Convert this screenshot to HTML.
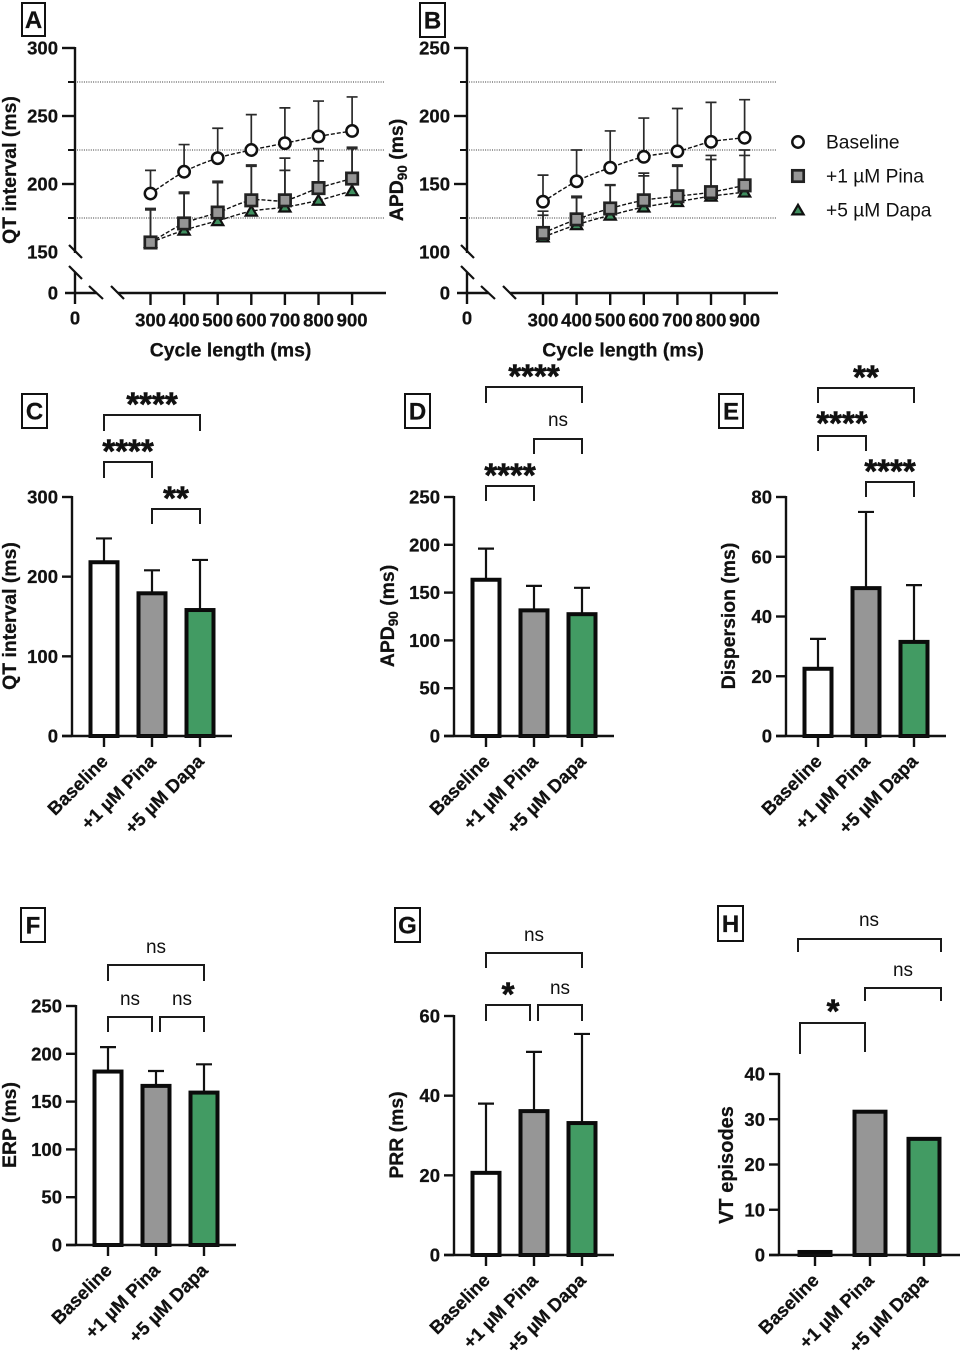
<!DOCTYPE html>
<html lang="en">
<head>
<meta charset="utf-8">
<title>Electrophysiology panels A–H</title>
<style>
html,body{margin:0;padding:0;background:#fff;}
#figure{display:block;width:962px;height:1351px;font-family:"Liberation Sans",sans-serif;filter:blur(0.3px);}
text{font-family:"Liberation Sans",sans-serif;fill:#111;}
text[font-weight="bold"]{stroke:#111;stroke-width:0.25px;}
</style>
</head>
<body>
<svg id="figure" xmlns="http://www.w3.org/2000/svg" width="962" height="1351" viewBox="0 0 962 1351"></svg>
<script>
const groupLabels = ['Baseline', '+1 µM Pina', '+5 µM Dapa'];
const cycleLengths = [300, 400, 500, 600, 700, 800, 900];

const qtLineBaseline = [193, 209, 219, 225, 230, 235, 239];
const qtLineBaselineUpper = [210, 229, 241, 251, 256, 261, 264];
const qtLinePina = [157, 171, 179, 188, 188, 197, 204];
const qtLinePinaUpper = [182, 194, 202, 214, 219, 226, 227];
const qtLineDapa = [157, 166, 173, 180, 183, 188, 195];
const qtLineDapaUpper = [181, 193, 201, 213, 210, 217, 226];
const qtLineTicks = [300, 250, 200, 150];
const qtLineMinorTicks = [275, 225, 175];

const apdLineBaseline = [137, 152, 162, 170, 174, 181, 184];
const apdLineBaselineUpper = [156.5, 175, 189, 198.5, 205.5, 210, 212];
const apdLinePina = [114, 124, 132, 138, 141, 144, 149];
const apdLinePinaUpper = [130, 141, 149.5, 158, 164, 171, 175];
const apdLineDapa = [111, 120, 127, 133, 137, 141, 144];
const apdLineDapaUpper = [127, 140, 149, 156, 163, 168, 171];
const apdLineTicks = [250, 200, 150, 100];
const apdLineMinorTicks = [225, 175, 125];

const qtBarMeans = [220, 181, 160];
const qtBarUpper = [248, 208, 221];
const qtBarTicks = [0, 100, 200, 300];

const apdBarMeans = [165, 133, 129];
const apdBarUpper = [196, 157, 155];
const apdBarTicks = [0, 50, 100, 150, 200, 250];

const dispersionMeans = [23, 50, 32];
const dispersionUpper = [32.5, 75, 50.5];
const dispersionTicks = [0, 20, 40, 60, 80];

const erpMeans = [183, 168, 161];
const erpUpper = [207, 182, 189];
const erpTicks = [0, 50, 100, 150, 200, 250];

const prrMeans = [21, 36.5, 33.5];
const prrUpper = [38, 51, 55.5];
const prrTicks = [0, 20, 40, 60];

const vtEpisodes = [1, 32, 26];
const vtTicks = [0, 10, 20, 30, 40];

const svgRoot = document.getElementById('figure');
const NS = 'http://www.w3.org/2000/svg';
const fills = ['#ffffff', '#969696', '#429b63'];

function make(parent, tag, attrs, text) {
  const node = document.createElementNS(NS, tag);
  for (const k in attrs) node.setAttribute(k, attrs[k]);
  if (text !== undefined) node.textContent = text;
  parent.appendChild(node);
  return node;
}

function panelLetter(parent, letter, x, y, w, h) {
  const box = make(parent, 'rect', {x: x, y: y, width: w, height: h, fill: '#fff', stroke: '#111', 'stroke-width': 2});
  
  
  const t = make(parent, 'text', {x: x + w / 2, y: y + h / 2 + 8.5, 'text-anchor': 'middle', 'font-size': 24, 'font-weight': 'bold'}, letter);
  
  
}

function yTitle(parent, label, sub, rest, x, y, size) {
  const t = make(parent, 'text', {transform: 'translate(' + x + ',' + y + ') rotate(-90)', 'text-anchor': 'middle', 'font-size': size || 19.4, 'font-weight': 'bold'}, label);
  if (sub) {
    make(t, 'tspan', {dy: 4, 'font-size': 13.5}, sub);
    make(t, 'tspan', {dy: -4}, rest);
  }
  
  
}

function axisLine(parent, x1, y1, x2, y2, width, name) {
  const l = make(parent, 'line', {x1: x1, y1: y1, x2: x2, y2: y2, stroke: '#111', 'stroke-width': width});
  
  
  return l;
}

function tickLabel(parent, x, y, anchor, value, name) {
  const t = make(parent, 'text', {x: x, y: y + 6.5, 'text-anchor': anchor, 'font-size': 18.5, 'font-weight': 'bold'}, value);
  
  
}

function bracket(parent, x1, x2, y, dropL, dropR, label, lx, ly) {
  const p = make(parent, 'path', {d: 'M' + x1 + ' ' + (y + dropL) + 'V' + y + 'H' + x2 + 'V' + (y + dropR), fill: 'none', stroke: '#1a1a1a', 'stroke-width': 2});
  
  
  const isStars = label.charAt(0) === '*';
  const t = make(parent, 'text', isStars
    ? {x: lx, y: ly + 15.5, 'text-anchor': 'middle', 'font-size': 33, 'font-weight': 'bold', style: 'stroke-width:0.6px'}
    : {x: lx, y: ly + 5, 'text-anchor': 'middle', 'font-size': 19}, label);
  
  
}

function marker(parent, kind, x, y) {
  let m;
  if (kind === 0) {
    m = make(parent, 'circle', {cx: x, cy: y, r: 5.7, fill: '#fff', stroke: '#111', 'stroke-width': 2.5});
  } else if (kind === 1) {
    m = make(parent, 'rect', {x: x - 5.7, y: y - 5.7, width: 11.4, height: 11.4, fill: '#969696', stroke: '#222', 'stroke-width': 2.7});
  } else {
    m = make(parent, 'path', {d: 'M' + x + ' ' + (y - 5.2) + 'L' + (x + 5.6) + ' ' + (y + 4.4) + 'H' + (x - 5.6) + 'Z', fill: '#3f8f5f', stroke: '#111', 'stroke-width': 2.2});
  }
  
  
  return m;
}

function smoothPath(pts) {
  let d = 'M' + pts[0][0] + ' ' + pts[0][1];
  for (let i = 0; i < pts.length - 1; i++) {
    const p0 = pts[Math.max(0, i - 1)], p1 = pts[i], p2 = pts[i + 1], p3 = pts[Math.min(pts.length - 1, i + 2)];
    d += 'C' + (p1[0] + (p2[0] - p0[0]) / 6) + ' ' + (p1[1] + (p2[1] - p0[1]) / 6) + ' ' +
      (p2[0] - (p3[0] - p1[0]) / 6) + ' ' + (p2[1] - (p3[1] - p1[1]) / 6) + ' ' + p2[0] + ' ' + p2[1];
  }
  return d;
}

function linePanel(cfg) {
  const g = make(svgRoot, 'g', {});
  
  
  const ax = cfg.axisX;
  const topVal = cfg.ticks[0];
  const yScale = v => 48 + (topVal - v) * 68 / 50;
  const xScale = v => cfg.x300 + (v - 300) * 0.336;

  cfg.minor.forEach(v => {
    const d = make(g, 'line', {x1: ax + 2, y1: yScale(v), x2: cfg.xEnd, y2: yScale(v), stroke: '#333', 'stroke-width': 1.1, 'stroke-dasharray': '1 1.3'});
    
    
    axisLine(g, ax - 7, yScale(v), ax, yScale(v), 2, 'y-minor-tick');
  });

  axisLine(g, ax, 47, ax, 253, 2.4, 'y-axis-upper');
  axisLine(g, ax, 272, ax, 304, 2.4, 'y-axis-lower');
  axisLine(g, ax - 6, 245, ax + 7, 258, 2.2, 'y-axis-break-mark');
  axisLine(g, ax - 6, 266, ax + 7, 279, 2.2, 'y-axis-break-mark');
  axisLine(g, ax + 14, 286, ax + 28, 299, 2.2, 'x-axis-break-mark');
  axisLine(g, ax + 36, 286, ax + 49, 299, 2.2, 'x-axis-break-mark');
  axisLine(g, ax - 10, 293, ax + 22, 293, 2.4, 'x-axis-left-segment');
  axisLine(g, ax + 43, 293, cfg.xEnd + 1, 293, 2.4, 'x-axis-right-segment');

  cfg.ticks.forEach(v => {
    if (v !== cfg.ticks[cfg.ticks.length - 1]) axisLine(g, ax - 13, yScale(v), ax, yScale(v), 2.4, 'y-major-tick');
    tickLabel(g, ax - 17, yScale(v), 'end', v, 'y-tick-label');
  });
  tickLabel(g, ax - 17, 293, 'end', 0, 'y-tick-label');
  tickLabel(g, ax, 318, 'middle', 0, 'x-tick-label');

  cycleLengths.forEach(v => {
    axisLine(g, xScale(v), 293, xScale(v), 305, 2.4, 'x-tick');
    tickLabel(g, xScale(v), 320, 'middle', v, 'x-tick-label');
  });

  const xt = make(g, 'text', {x: cfg.x300 + 80, y: 356.5, 'text-anchor': 'middle', 'font-size': 19.4, 'font-weight': 'bold'}, 'Cycle length (ms)');
  
  

  const order = [2, 1, 0];
  order.forEach(k => {
    cfg.upper[k].forEach((u, i) => {
      const x = xScale(cycleLengths[i]);
      const e = make(g, 'path', {d: 'M' + x + ' ' + yScale(cfg.series[k][i]) + 'V' + yScale(u) + 'M' + (x - 5.5) + ' ' + yScale(u) + 'H' + (x + 5.5), fill: 'none', stroke: '#2a2a2a', 'stroke-width': 1.7});
      
      
    });
  });
  order.forEach(k => {
    const pts = cfg.series[k].map((v, i) => [xScale(cycleLengths[i]), yScale(v)]);
    const l = make(g, 'path', {d: smoothPath(pts), fill: 'none', stroke: '#111', 'stroke-width': 1.4, 'stroke-dasharray': '4 2'});
    
    
  });
  order.forEach(k => {
    cfg.series[k].forEach((v, i) => marker(g, k, xScale(cycleLengths[i]), yScale(v)));
  });
  return g;
}

function barPanel(cfg) {
  const g = make(svgRoot, 'g', {});
  
  
  const yMax = cfg.ticks[cfg.ticks.length - 1];
  const yScale = v => cfg.y0 - v * (cfg.y0 - cfg.yTop) / yMax;
  const barW = cfg.barW || 27;

  cfg.means.forEach((v, i) => {
    const cx = cfg.centers[i];
    if (cfg.upper) {
      const e = make(g, 'path', {d: 'M' + cx + ' ' + yScale(v) + 'V' + yScale(cfg.upper[i]) + 'M' + (cx - 8) + ' ' + yScale(cfg.upper[i]) + 'H' + (cx + 8), fill: 'none', stroke: '#111', 'stroke-width': 2.2});
      
      
    }
    const top = yScale(v) + 1.5;
    const b = make(g, 'rect', {x: cx - barW / 2, y: top, width: barW, height: Math.max(0, cfg.y0 - top), fill: fills[i], stroke: '#0b0b0b', 'stroke-width': 4});
    
    
    axisLine(g, cx, cfg.y0, cx, cfg.y0 + 11, 2.4, 'x-tick');
    const t = make(g, 'text', {transform: 'translate(' + (cx + 5) + ',' + (cfg.y0 + 26.5) + ') rotate(-45)', 'text-anchor': 'end', 'font-size': 18.5, 'font-weight': 'bold'}, groupLabels[i]);
    
    
  });

  axisLine(g, cfg.axisX, cfg.yTop - 1, cfg.axisX, cfg.y0, 2.4, 'y-axis');
  axisLine(g, cfg.axisX - 10, cfg.y0, cfg.xEnd, cfg.y0, 2.4, 'x-axis');
  cfg.ticks.forEach(v => {
    axisLine(g, cfg.axisX - 10, yScale(v), cfg.axisX, yScale(v), 2.4, 'y-tick');
    tickLabel(g, cfg.axisX - 14, yScale(v), 'end', v, 'y-tick-label');
  });
  return g;
}

const groupA = linePanel({name: 'panel-a-qt-interval', axisX: 75, x300: 150.5, xEnd: 385,
  ticks: qtLineTicks, minor: qtLineMinorTicks,
  series: [qtLineBaseline, qtLinePina, qtLineDapa],
  upper: [qtLineBaselineUpper, qtLinePinaUpper, qtLineDapaUpper]});
panelLetter(groupA, 'A', 22, 3, 23, 33);
yTitle(groupA, 'QT interval (ms)', null, null, 16, 170);

const groupB = linePanel({name: 'panel-b-apd90', axisX: 467, x300: 543, xEnd: 777,
  ticks: apdLineTicks, minor: apdLineMinorTicks,
  series: [apdLineBaseline, apdLinePina, apdLineDapa],
  upper: [apdLineBaselineUpper, apdLinePinaUpper, apdLineDapaUpper]});
panelLetter(groupB, 'B', 420, 3, 25, 34);
yTitle(groupB, 'APD', '90', ' (ms)', 403, 170);

const legend = make(svgRoot, 'g', {});


groupLabels.forEach((label, i) => {
  const y = 142 + i * 34;
  marker(legend, i, 798, y);
  const t = make(legend, 'text', {x: 826, y: y + 6.5, 'font-size': 19.2, fill: '#222'}, label);
  
  
});

const groupC = barPanel({name: 'panel-c-qt-bars', axisX: 72, xEnd: 232, y0: 736, yTop: 497, centers: [104, 152, 200], means: qtBarMeans, upper: qtBarUpper, ticks: qtBarTicks});
panelLetter(groupC, 'C', 22, 394, 25, 34);
yTitle(groupC, 'QT interval (ms)', null, null, 16, 616);
bracket(groupC, 104, 200, 415, 16, 16, '****', 152, 400);
bracket(groupC, 104, 152, 462, 16, 16, '****', 128, 447);
bracket(groupC, 152, 200, 509, 15, 15, '**', 176, 494);

const groupD = barPanel({name: 'panel-d-apd-bars', axisX: 454, xEnd: 614, y0: 736, yTop: 497, centers: [486, 534, 582], means: apdBarMeans, upper: apdBarUpper, ticks: apdBarTicks});
panelLetter(groupD, 'D', 405, 394, 25, 34);
yTitle(groupD, 'APD', '90', ' (ms)', 394, 616);
bracket(groupD, 486, 582, 387, 16, 16, '****', 534, 372);
bracket(groupD, 486, 534, 486, 15, 15, '****', 510, 471);
bracket(groupD, 534, 582, 439, 15, 15, 'ns', 558, 421);

const groupE = barPanel({name: 'panel-e-dispersion-bars', axisX: 786, xEnd: 946, y0: 736, yTop: 497, centers: [818, 866, 914], means: dispersionMeans, upper: dispersionUpper, ticks: dispersionTicks});
panelLetter(groupE, 'E', 719, 394, 24, 34);
yTitle(groupE, 'Dispersion (ms)', null, null, 735, 616);
bracket(groupE, 818, 914, 388, 15, 15, '**', 866, 373);
bracket(groupE, 818, 866, 436, 15, 15, '****', 842, 419);
bracket(groupE, 866, 914, 482, 15, 15, '****', 890, 467);

const groupF = barPanel({name: 'panel-f-erp-bars', axisX: 76, xEnd: 236, y0: 1245, yTop: 1006, centers: [108, 156, 204], means: erpMeans, upper: erpUpper, ticks: erpTicks});
panelLetter(groupF, 'F', 21, 908, 24, 34);
yTitle(groupF, 'ERP (ms)', null, null, 16, 1125);
bracket(groupF, 108, 204, 965, 16, 16, 'ns', 156, 948);
bracket(groupF, 108, 152, 1017, 15, 15, 'ns', 130, 1000);
bracket(groupF, 160, 204, 1017, 15, 15, 'ns', 182, 1000);

const groupG = barPanel({name: 'panel-g-prr-bars', axisX: 454, xEnd: 614, y0: 1255, yTop: 1016, centers: [486, 534, 582], means: prrMeans, upper: prrUpper, ticks: prrTicks});
panelLetter(groupG, 'G', 395, 908, 25, 34);
yTitle(groupG, 'PRR (ms)', null, null, 403, 1135);
bracket(groupG, 486, 582, 953, 15, 15, 'ns', 534, 936);
bracket(groupG, 486, 530, 1005, 16, 16, '*', 508, 990);
bracket(groupG, 538, 582, 1005, 16, 16, 'ns', 560, 989);

const groupH = barPanel({name: 'panel-h-vt-bars', axisX: 779, xEnd: 960, y0: 1255, yTop: 1074, centers: [815, 870, 924], barW: 31, means: vtEpisodes, ticks: vtTicks});
panelLetter(groupH, 'H', 718, 906, 25, 35);
yTitle(groupH, 'VT episodes', null, null, 733, 1165, 20);
bracket(groupH, 798, 941, 939, 13, 13, 'ns', 869, 921);
bracket(groupH, 865, 941, 988, 13, 13, 'ns', 903, 971);
bracket(groupH, 800, 865, 1023, 31, 29, '*', 833, 1007);
</script>
</body>
</html>
